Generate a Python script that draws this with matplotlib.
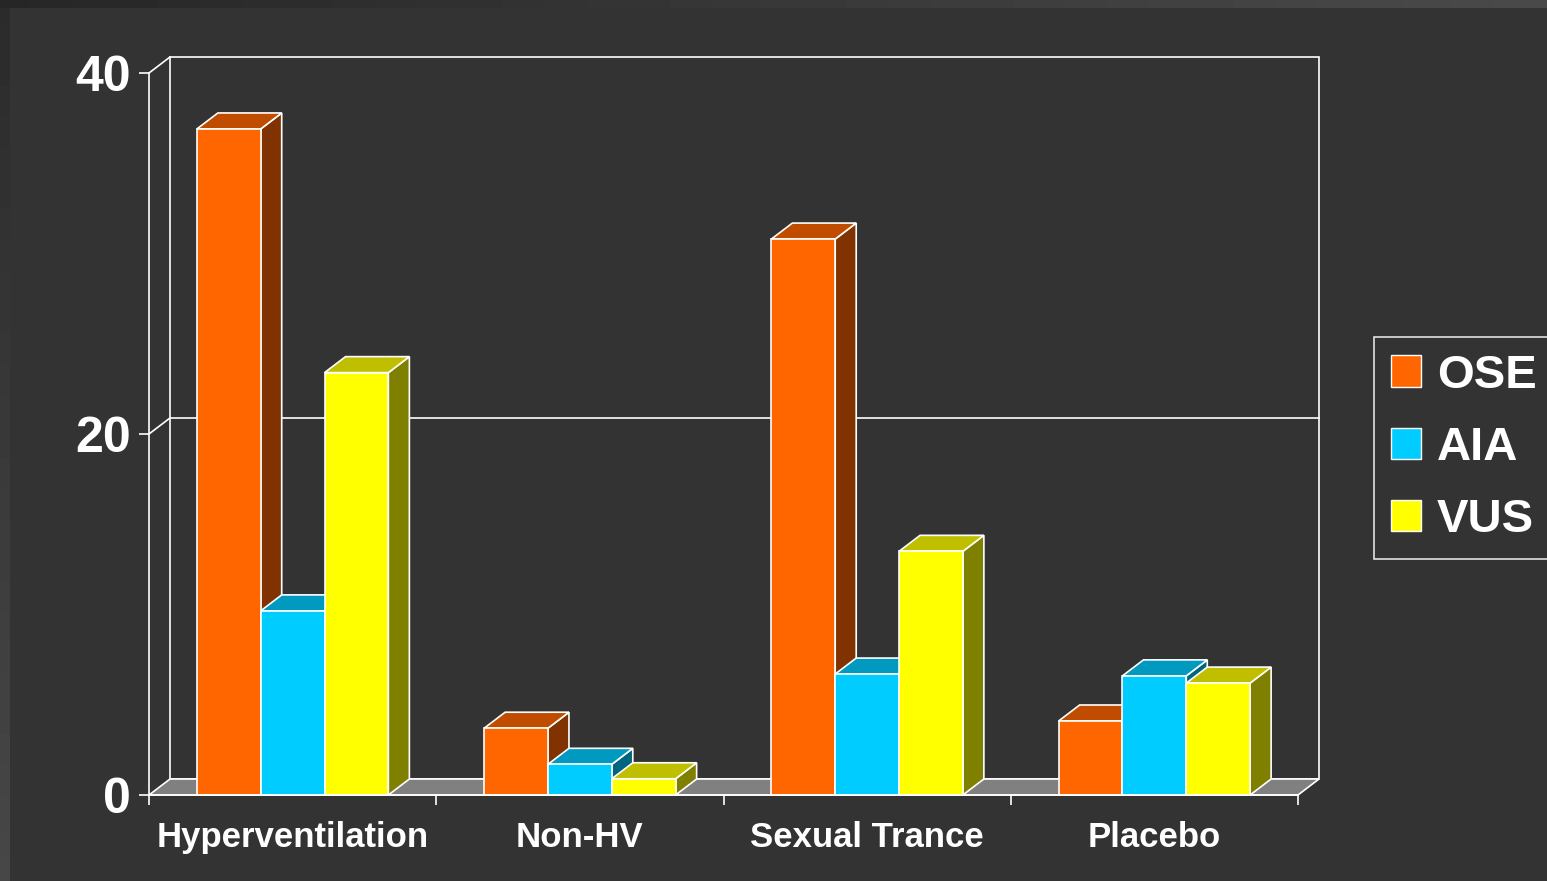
import matplotlib
matplotlib.use("Agg")
import matplotlib.pyplot as plt
from matplotlib.patches import Polygon, Rectangle, Patch
import numpy as np

categories = ["Hyperventilation", "Non-HV", "Sexual Trance", "Placebo"]
series = ["OSE", "AIA", "VUS"]
ose = [36.9, 3.7, 30.8, 4.1]
aia = [10.2, 1.7, 6.7, 6.6]
vus = [23.4, 0.9, 13.5, 6.2]
y_ticks = [0, 20, 40]

# front, top, side shades for each series
colors = {
    "OSE": ("#ff6600", "#c04c00", "#803300"),
    "AIA": ("#00ccff", "#0099bf", "#006680"),
    "VUS": ("#ffff00", "#bfbf00", "#808000"),
}

BG = "#333333"
W, H = 1547, 881
plt.rcParams["font.family"] = ["Liberation Sans", "DejaVu Sans"]
plt.rcParams["font.weight"] = "bold"

fig = plt.figure(figsize=(W / 100, H / 100), dpi=100, facecolor=BG)

# lighter frame strips along top and left edge
strip_top = fig.add_axes([0, 1 - 8 / H, 1, 8 / H])
strip_top.imshow(np.linspace(0.15, 0.29, 256)[None, :], cmap="gray", vmin=0, vmax=1,
                 aspect="auto", extent=[0, 1, 0, 1])
strip_top.axis("off")
strip_left = fig.add_axes([0, 0, 10 / W, 1 - 8 / H])
strip_left.imshow(np.linspace(0.17, 0.28, 256)[:, None], cmap="gray", vmin=0, vmax=1,
                  aspect="auto", extent=[0, 1, 0, 1])
strip_left.axis("off")

x0_px, x1_px, y0_px, y1_px = 149, 1298, 795, 73
ax = fig.add_axes([x0_px / W, (H - y0_px) / H, (x1_px - x0_px) / W, (y0_px - y1_px) / H])
ax.set_facecolor("none")
n_cat = len(categories)
ax.set_xlim(0, n_cat)
ax.set_ylim(0, 40)

# 3D depth offset, in data units (about 21 px right, 16 px up)
DX = 21 / ((x1_px - x0_px) / n_cat)
DY = 16 / ((y0_px - y1_px) / 40)

EDGE = "white"
LW = 1.2

# back wall and gridline
ax.add_patch(Rectangle((DX, DY), n_cat, 40, fill=False, edgecolor=EDGE, lw=LW, clip_on=False, zorder=1))
for t in y_ticks[1:-1]:
    ax.plot([0, DX, n_cat + DX], [t, t + DY, t + DY], color=EDGE, lw=LW, clip_on=False, zorder=1)
ax.plot([0, DX], [40, 40 + DY], color=EDGE, lw=LW, clip_on=False, zorder=1)

# floor
ax.add_patch(Polygon([(0, 0), (n_cat, 0), (n_cat + DX, DY), (DX, DY)], closed=True,
                     facecolor="#808080", edgecolor=EDGE, lw=LW, clip_on=False, zorder=2))

bar_w = 1 / 4.5
values = [ose, aia, vus]
for i in range(n_cat):
    start = i + 0.75 * bar_w
    for j, name in enumerate(series):
        v = values[j][i]
        front, top, side = colors[name]
        xa = start + j * bar_w
        xb = xa + bar_w
        z = 3 + i * 3 + j
        ax.add_patch(Polygon([(xb, 0), (xb + DX, DY), (xb + DX, v + DY), (xb, v)], closed=True,
                             facecolor=side, edgecolor=EDGE, lw=LW, clip_on=False, zorder=z))
        ax.add_patch(Polygon([(xa, v), (xb, v), (xb + DX, v + DY), (xa + DX, v + DY)], closed=True,
                             facecolor=top, edgecolor=EDGE, lw=LW, clip_on=False, zorder=z))
        ax.add_patch(Rectangle((xa, 0), bar_w, v, facecolor=front, edgecolor=EDGE, lw=LW,
                               clip_on=False, zorder=z))

for s in ["top", "right"]:
    ax.spines[s].set_visible(False)
for s in ["left", "bottom"]:
    ax.spines[s].set_color(EDGE)
    ax.spines[s].set_linewidth(LW)
    ax.spines[s].set_zorder(30)

ax.set_yticks(y_ticks)
ax.set_yticklabels([str(t) for t in y_ticks])
ax.tick_params(axis="y", colors="white", labelsize=36, length=7, width=LW, pad=6)
ax.set_xticks(range(n_cat + 1))
ax.set_xticklabels([])
ax.set_xticks([i + 0.5 for i in range(n_cat)], minor=True)
ax.set_xticklabels(categories, minor=True)
ax.tick_params(axis="x", which="major", colors="white", length=7, width=LW)
ax.tick_params(axis="x", which="minor", colors="white", labelsize=25, length=0, pad=19)
for lab in ax.get_yticklabels() + ax.get_xticklabels(minor=True):
    lab.set_fontweight("bold")

handles = [Patch(facecolor=colors[n][0], edgecolor="white", lw=1) for n in series]
leg = fig.legend(handles, series, loc="upper left", bbox_to_anchor=(1374 / W, 1 - 337 / H),
                 frameon=True, fancybox=False, framealpha=1, facecolor=BG, edgecolor="#e0e0e0",
                 fontsize=34, handlelength=0.64, handleheight=0.64, handletextpad=0.34,
                 labelspacing=0.6, borderpad=0.35, borderaxespad=0)
leg.get_frame().set_linewidth(1.2)
for t in leg.get_texts():
    t.set_color("white")
    t.set_fontweight("bold")

fig.savefig("out.png", dpi=100, facecolor=BG)
